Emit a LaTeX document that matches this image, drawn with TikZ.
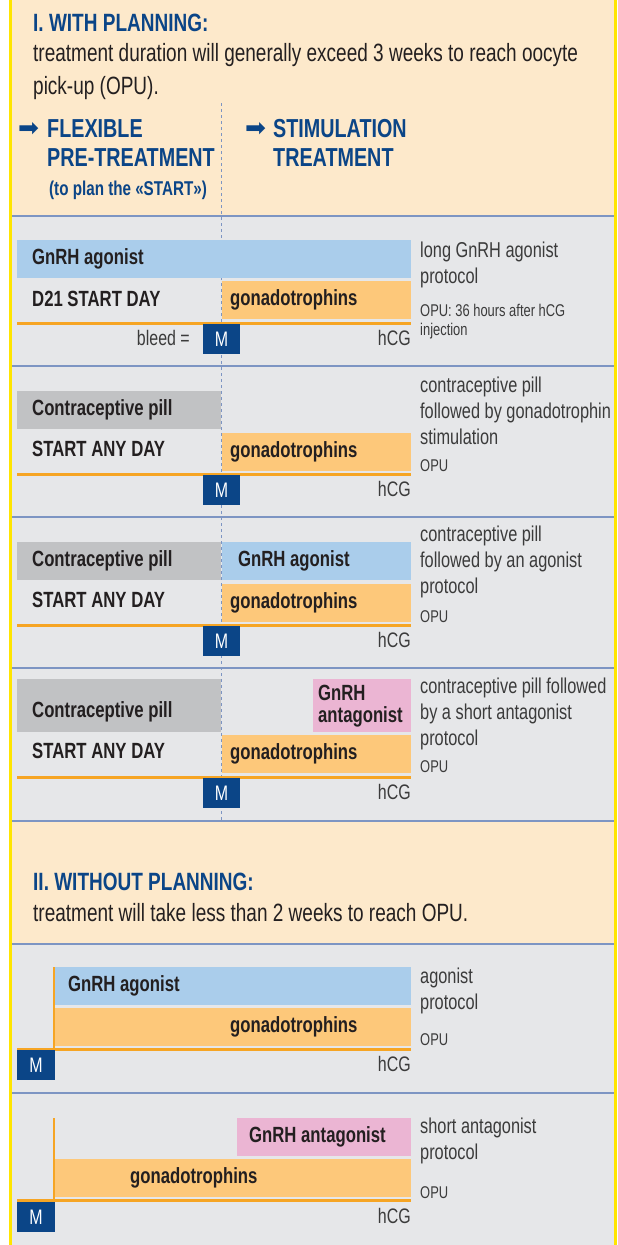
\documentclass[tikz,border=0pt]{standalone}
\usepackage{fontspec}
\setmainfont[FakeStretch=0.76]{Liberation Sans}
\newfontfamily\arrowfont{DejaVu Sans}

\definecolor{beige}{HTML}{FDE9CB}
\definecolor{panelgray}{HTML}{E6E7E9}
\definecolor{rim}{HTML}{FFE500}
\definecolor{sepline}{HTML}{7D95C3}
\definecolor{agoblue}{HTML}{AACDEB}
\definecolor{gonaorange}{HTML}{FDC87A}
\definecolor{lineorange}{HTML}{F6A524}
\definecolor{pillgray}{HTML}{C1C2C4}
\definecolor{antapink}{HTML}{EBB5D3}
\definecolor{navy}{HTML}{0B4587}
\definecolor{ink}{HTML}{231F20}
\definecolor{sidegray}{HTML}{3B3B3B}

\tikzset{
  head/.style={anchor=west, inner sep=0pt, text=navy, font=\fontsize{25}{25}\selectfont\bfseries},
  body/.style={anchor=west, inner sep=0pt, text=ink, font=\fontsize{25}{25}\selectfont},
  colhead/.style={anchor=west, inner sep=0pt, align=left, text=navy, font=\fontsize{26}{29}\selectfont\bfseries},
  sub/.style={anchor=east, inner sep=0pt, text=navy, font=\fontsize{20}{20}\selectfont\bfseries},
  pointer/.style={anchor=west, inner sep=0pt, text=navy, font=\arrowfont\fontsize{25}{25}\selectfont},
  barlabel/.style={anchor=west, inner sep=0pt, align=left, text=ink, font=\fontsize{22}{22}\selectfont\bfseries},
  side/.style={anchor=west, inner sep=0pt, align=left, text=sidegray, font=\fontsize{21.5}{26}\selectfont},
  small/.style={anchor=west, inner sep=0pt, align=left, text=sidegray, font=\fontsize{17}{19}\selectfont},
  mbox/.style={fill=navy, text=white, minimum width=37pt, minimum height=30pt, inner sep=0pt, font=\fontsize{21}{21}\selectfont},
  tick/.style={anchor=east, inner sep=0pt, text=sidegray, font=\fontsize{21}{21}\selectfont},
  timeline/.style={lineorange, line width=3pt},
  sep/.style={sepline, line width=2pt},
}

\begin{document}
\begin{tikzpicture}[x=1pt,y=-1pt]
    \useasboundingbox (0,0) rectangle (618,1245);
    % panels and frame
    \fill[beige] (10,0) rectangle (616,216);
    \fill[panelgray] (10,216) rectangle (616,821);
    \fill[beige] (10,821) rectangle (616,944);
    \fill[panelgray] (10,944) rectangle (616,1245);
    \foreach \y in {216,366,517,668,821,944,1093}
        \draw[sep] (11,\y) -- (615,\y);
    \draw[rim, line width=2.5pt] (10.5,0) -- (10.5,1245);
    \draw[rim, line width=2.5pt] (615.5,0) -- (615.5,1245);

    % part I
    \node[head] (h1) at (33,23) {I. WITH PLANNING:};
    \node[body] (b1) at (33,55) {treatment duration will generally exceed 3 weeks to reach oocyte};
    \node[body] (b2) at (33,88) {pick-up (OPU).};
    \draw[sepline, dash pattern=on 3pt off 3pt, line width=0.8pt] (221,103) -- (221,821);
    \node[pointer] (p1) at (18,129) {➡};
    \node[colhead] (flex) at (47,143) {FLEXIBLE\\PRE-TREATMENT};
    \node[sub] (plan) at (207,190) {(to plan the «START»)};
    \node[pointer] (p2) at (245,129) {➡};
    \node[colhead] (stim) at (273,143) {STIMULATION\\TREATMENT};

    % long agonist
    \fill[agoblue] (17,240) rectangle (411,278);
    \node[barlabel] (r1ago) at (32,259) {GnRH agonist};
    \node[barlabel] (r1day) at (32,299) {D21 START DAY};
    \fill[gonaorange] (222,281) rectangle (411,319);
    \node[barlabel] (r1gon) at (230,300) {gonadotrophins};
    \coordinate (r1s) at (17,323);
    \coordinate (r1e) at (411,323);
    \draw[timeline] (r1s) -- (r1e);
    \node[mbox] (r1m) at (221.5,339) {M};
    \node[tick] (r1bleed) at (190,338) {bleed =};
    \node[tick] (r1hcg) at (411,338) {hCG};
    \node[side] (r1side) at (420,265) {long GnRH agonist\\protocol};
    \node[small] (r1opu) at (420,322) {OPU: 36 hours after hCG\\injection};

    % pill + gonadotrophins
    \fill[pillgray] (17,391) rectangle (221,429);
    \node[barlabel] (r2pill) at (32,410) {Contraceptive pill};
    \node[barlabel] (r2day) at (32,449) {START ANY DAY};
    \fill[gonaorange] (222,433) rectangle (411,471);
    \node[barlabel] (r2gon) at (230,452) {gonadotrophins};
    \coordinate (r2s) at (17,474);
    \coordinate (r2e) at (411,474);
    \draw[timeline] (r2s) -- (r2e);
    \node[mbox] (r2m) at (221.5,490) {M};
    \node[tick] (r2hcg) at (411,489) {hCG};
    \node[side] (r2side) at (420,411) {contraceptive pill\\followed by gonadotrophin\\stimulation};
    \node[small] (r2opu) at (420,466) {OPU};

    % pill + agonist
    \fill[pillgray] (17,542) rectangle (221,580);
    \node[barlabel] (r3pill) at (32,561) {Contraceptive pill};
    \fill[agoblue] (222,542) rectangle (411,580);
    \node[barlabel] (r3ago) at (238,561) {GnRH agonist};
    \node[barlabel] (r3day) at (32,600) {START ANY DAY};
    \fill[gonaorange] (222,584) rectangle (411,622);
    \node[barlabel] (r3gon) at (230,603) {gonadotrophins};
    \coordinate (r3s) at (17,625);
    \coordinate (r3e) at (411,625);
    \draw[timeline] (r3s) -- (r3e);
    \node[mbox] (r3m) at (221.5,641) {M};
    \node[tick] (r3hcg) at (411,640) {hCG};
    \node[side] (r3side) at (420,562) {contraceptive pill\\followed by an agonist\\protocol};
    \node[small] (r3opu) at (420,617) {OPU};

    % pill + antagonist
    \fill[pillgray] (17,679) rectangle (221,732);
    \node[barlabel] (r4pill) at (32,712) {Contraceptive pill};
    \fill[antapink] (313,679) rectangle (411,732);
    \node[barlabel] (r4ant) at (318,706) {GnRH\\antagonist};
    \node[barlabel] (r4day) at (32,751) {START ANY DAY};
    \fill[gonaorange] (222,735) rectangle (411,773);
    \node[barlabel] (r4gon) at (230,754) {gonadotrophins};
    \coordinate (r4s) at (17,777);
    \coordinate (r4e) at (411,777);
    \draw[timeline] (r4s) -- (r4e);
    \node[mbox] (r4m) at (221.5,793) {M};
    \node[tick] (r4hcg) at (411,792) {hCG};
    \node[side] (r4side) at (420,714) {contraceptive pill followed\\by a short antagonist\\protocol};
    \node[small] (r4opu) at (420,767) {OPU};

    % part II
    \node[head] (h2) at (33,882) {II. WITHOUT PLANNING:};
    \node[body] (b3) at (33,913) {treatment will take less than 2 weeks to reach OPU.};

    % agonist protocol
    \fill[agoblue] (55,967) rectangle (411,1005);
    \node[barlabel] (r5ago) at (68,986) {GnRH agonist};
    \fill[gonaorange] (55,1008) rectangle (411,1046);
    \node[barlabel] (r5gon) at (230,1027) {gonadotrophins};
    \coordinate (r5s) at (17,1049);
    \coordinate (r5c) at (54,1049);
    \coordinate (r5t) at (54,967);
    \coordinate (r5e) at (411,1049);
    \draw[timeline] (r5s) -- (r5e);
    \draw[lineorange, line width=2pt] (r5c) -- (r5t);
    \node[mbox, minimum width=38pt] (r5m) at (36,1065) {M};
    \node[tick] (r5hcg) at (411,1064) {hCG};
    \node[side] (r5side) at (420,991) {agonist\\protocol};
    \node[small] (r5opu) at (420,1040) {OPU};

    % short antagonist protocol
    \fill[antapink] (237,1118) rectangle (411,1156);
    \node[barlabel] (r6ant) at (249,1137) {GnRH antagonist};
    \fill[gonaorange] (55,1159) rectangle (411,1197);
    \node[barlabel] (r6gon) at (130,1178) {gonadotrophins};
    \coordinate (r6s) at (17,1200);
    \coordinate (r6c) at (54,1200);
    \coordinate (r6t) at (54,1118);
    \coordinate (r6e) at (411,1200);
    \draw[timeline] (r6s) -- (r6e);
    \draw[lineorange, line width=2pt] (r6c) -- (r6t);
    \node[mbox, minimum width=38pt] (r6m) at (36,1217) {M};
    \node[tick] (r6hcg) at (411,1216) {hCG};
    \node[side] (r6side) at (420,1141) {short antagonist\\protocol};
    \node[small] (r6opu) at (420,1193) {OPU};
\end{tikzpicture}
\end{document}
